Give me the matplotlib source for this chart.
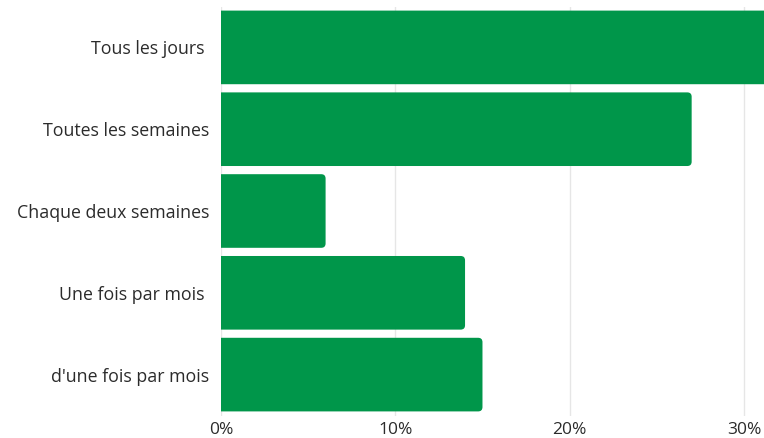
import numpy as np
from matplotlib import pyplot as pl
from matplotlib.patches import FancyBboxPatch
import matplotlib as mpl

mpl.rcParams["font.family"] = ["Open Sans", "DejaVu Sans"]
mpl.rcParams["text.color"] = "333333"

categories = ["Tous les jours ", "Toutes les semaines", "Chaque deux semaines",
              "Une fois par mois ", "d'une fois par mois"]
values = [32, 27, 6, 14, 15]
ticks = [0, 10, 20, 30]
tick_labels = ["0%", "10%", "20%", "30%"]

green = "#00964a"

fig = pl.figure(figsize=(7.64, 4.38), dpi=100)
ax = fig.add_axes([221 / 764, 1 - 415.5 / 438, 1 - 221 / 764, (415.5 - 6.5) / 438])

y = np.arange(len(categories))
bars = ax.barh(y, values, height=0.9, color=green)

ax.set_xlim(0, 31.15)
ax.set_ylim(len(categories) - 0.5, -0.5)

# swap the plain bars for ones with rounded right corners
fig.canvas.draw()
px_x = ax.transData.transform((1, 0))[0] - ax.transData.transform((0, 0))[0]
px_y = abs(ax.transData.transform((0, 1))[1] - ax.transData.transform((0, 0))[1])
for b in bars:
    x0, y0 = b.get_x(), b.get_y()
    w, h = b.get_width(), b.get_height()
    b.set_visible(False)
    rounded = FancyBboxPatch((x0 - 1, y0), w + 1, h,
                             boxstyle="round,pad=0,rounding_size=0.25",
                             mutation_aspect=px_x / px_y,
                             facecolor=green, edgecolor="none", zorder=2)
    ax.add_patch(rounded)

ax.set_yticks(y)
ax.set_yticklabels(categories, fontsize=12.8, color="#2b2b2b")
ax.set_xticks(ticks)
ax.set_xticklabels(tick_labels, fontsize=12.5, color="#2b2b2b")
ax.tick_params(axis="both", length=0)
ax.tick_params(axis="y", pad=8.6)
ax.tick_params(axis="x", pad=4.5)

for s in ax.spines.values():
    s.set_visible(False)
ax.set_axisbelow(True)
ax.grid(axis="x", color="#e6e6e6", linewidth=1)

pl.savefig("out.png", dpi=100)
pl.close()
